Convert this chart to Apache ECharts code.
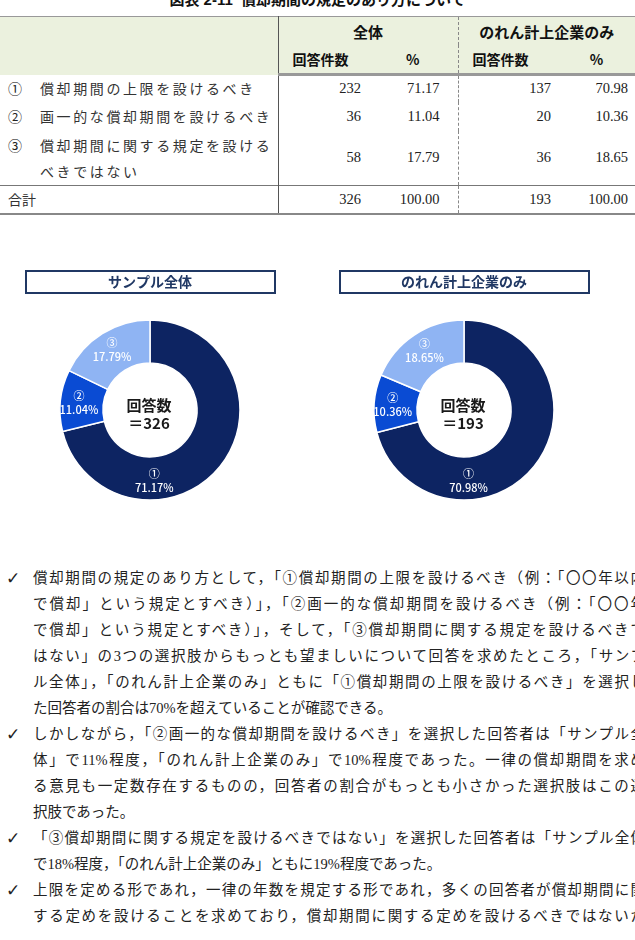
<!DOCTYPE html>
<html lang="ja">
<head>
<meta charset="UTF-8">
<script src="https://cdn.jsdelivr.net/npm/echarts@6/dist/echarts.min.js"></script>
<title>償却期間の規定のあり方について</title>
<style>
    body { margin: 0; width: 635px; height: 940px; overflow: hidden; position: relative; background: #fff;
           font-family: "Liberation Serif", "Noto Sans CJK JP", serif; color: #222; }
    .cap { position: absolute; left: 0; width: 635px; top: -9px; line-height: 18px; text-align: center;
           font-family: "Liberation Sans", "Noto Sans CJK JP", sans-serif; font-weight: bold; font-size: 15px; color: #111; }
    #tbl { position: absolute; left: 0; top: 16px; width: 635px; border-collapse: collapse; table-layout: fixed; }
    #tbl td { padding: 0; vertical-align: middle; white-space: nowrap; }
    #tbl tr.h1 td, #tbl tr.h2 td { background: #ebf1de; font-family: "Noto Sans CJK JP", sans-serif; font-weight: bold; color: #111; }
    #tbl tr.h1 td { height: 28px; font-size: 15px; border-top: 1px solid #999; }
    #tbl tr.h2 td { height: 28px; font-size: 14px; border-bottom: 3px solid #999; }
    #tbl td.c0 { border-right: 1px solid #555; padding-left: 8px; }
    #tbl td.dl { border-left: 1px dashed #888; }
    #tbl td.ctr { text-align: center; }
    #tbl td.pl { padding-left: 14px; }
    #tbl td.num { text-align: right; font-size: 14.5px; padding-right: 7px; }
    #tbl td.num2 { padding-right: 18px; }
    #tbl .mk { display: inline-block; width: 32px; vertical-align: top; font-family: "Noto Sans CJK JP"; font-size: 14px; }
    #tbl .tx { display: inline-block; vertical-align: top; white-space: pre; font-family: "Noto Sans CJK JP"; font-size: 14px;
               letter-spacing: 2.6px; line-height: 26px; color: #333; }
    #tbl tr.tot td { border-top: 1px solid #777; border-bottom: 2px solid #888; height: 27px; }
    #pies { position: absolute; left: 0; top: 230px; width: 635px; height: 300px; }
    .ln { position: absolute; left: 33px; height: 26px; line-height: 26px; white-space: nowrap; font-size: 14.5px; color: #222; }
    .ln.j { width: 612px; text-align: justify; text-align-last: justify; }
    .ck { position: absolute; left: 6px; height: 26px; line-height: 26px; font-family: "DejaVu Sans"; font-size: 17px; color: #222; }
</style>
</head>
<body>
<div class="cap">図表 2-11&nbsp; 償却期間の規定のあり方について</div>
<table id="tbl">
    <colgroup><col style="width:278px"><col style="width:90px"><col style="width:90px"><col style="width:100px"><col style="width:77px"></colgroup>
    <tbody id="tb"></tbody>
</table>
<div id="pies"></div>

<div class="ck" style="top:565px">✓</div>
<div class="ln j" style="top:565px">償却期間の規定のあり方として，「①償却期間の上限を設けるべき（例：「〇〇年以内</div>
<div class="ln j" style="top:591px">で償却」という規定とすべき）」，「②画一的な償却期間を設けるべき（例：「〇〇年</div>
<div class="ln j" style="top:617px">で償却」という規定とすべき）」，そして，「③償却期間に関する規定を設けるべきで</div>
<div class="ln j" style="top:643px">はない」の3つの選択肢からもっとも望ましいについて回答を求めたところ，「サンプ</div>
<div class="ln j" style="top:669px">ル全体」，「のれん計上企業のみ」ともに「①償却期間の上限を設けるべき」を選択し</div>
<div class="ln" style="top:695px">た回答者の割合は70%を超えていることが確認できる。</div>
<div class="ck" style="top:721px">✓</div>
<div class="ln j" style="top:721px">しかしながら，「②画一的な償却期間を設けるべき」を選択した回答者は「サンプル全</div>
<div class="ln j" style="top:747px">体」で11%程度，「のれん計上企業のみ」で10%程度であった。一律の償却期間を求め</div>
<div class="ln j" style="top:773px">る意見も一定数存在するものの，回答者の割合がもっとも小さかった選択肢はこの選</div>
<div class="ln" style="top:799px">択肢であった。</div>
<div class="ck" style="top:825px">✓</div>
<div class="ln j" style="top:825px">「③償却期間に関する規定を設けるべきではない」を選択した回答者は「サンプル全体</div>
<div class="ln" style="top:851px">で18%程度，「のれん計上企業のみ」ともに19%程度であった。</div>
<div class="ck" style="top:877px">✓</div>
<div class="ln j" style="top:877px">上限を定める形であれ，一律の年数を規定する形であれ，多くの回答者が償却期間に関</div>
<div class="ln j" style="top:903px">する定めを設けることを求めており，償却期間に関する定めを設けるべきではないか</div>

<script type="text/javascript">
    // 選択肢
    var marks = ['①', '②', '③'];
    var choices = ['償却期間の上限を設けるべき', '画一的な償却期間を設けるべき', '償却期間に関する規定を設ける\nべきではない'];
    // 全体
    var allCount = [232, 36, 58];
    var allPct = [71.17, 11.04, 17.79];
    // のれん計上企業のみ
    var gwCount = [137, 20, 36];
    var gwPct = [70.98, 10.36, 18.65];
    // 合計
    var totalCount = [326, 193];
    var totalPct = [100.00, 100.00];
    var groupTitles = ['サンプル全体', 'のれん計上企業のみ'];

    var sliceColors = ['#0d2462', '#0a4bd3', '#8fb4f3'];
    var navy = '#203864';

    // 表
    var rowH = [27, 29, 54];
    var html = '<tr class="h1"><td class="c0" rowspan="2"></td><td colspan="2" class="ctr">全体</td>' +
        '<td colspan="2" class="ctr dl">のれん計上企業のみ</td></tr>' +
        '<tr class="h2"><td class="pl">回答件数</td><td class="ctr">%</td><td class="pl dl">回答件数</td><td class="ctr">%</td></tr>';
    for (var i = 0; i < choices.length; i++) {
        html += '<tr><td class="c0" style="height:' + rowH[i] + 'px"><span class="mk" style="line-height:26px">' + marks[i] + '</span>' +
            '<span class="tx">' + choices[i] + '</span></td>' +
            '<td class="num">' + allCount[i] + '</td>' +
            '<td class="num num2">' + allPct[i].toFixed(2) + '</td>' +
            '<td class="num dl">' + gwCount[i] + '</td>' +
            '<td class="num">' + gwPct[i].toFixed(2) + '</td></tr>';
    }
    html += '<tr class="tot"><td class="c0" style="font-family:\'Noto Sans CJK JP\';font-size:14px;color:#333">合計</td>' +
        '<td class="num">' + totalCount[0] + '</td><td class="num num2">' + totalPct[0].toFixed(2) + '</td>' +
        '<td class="num dl">' + totalCount[1] + '</td><td class="num">' + totalPct[1].toFixed(2) + '</td></tr>';
    document.getElementById('tb').innerHTML = html;

    // 円グラフ
    var myChart = echarts.init(document.getElementById('pies'));
    var centers = [[150, 180], [464, 180]];

    function donut(center, counts, pcts) {
        return {
            type: 'pie',
            center: center,
            radius: [47, 90],
            startAngle: 90,
            clockwise: true,
            silent: true,
            animation: false,
            itemStyle: { borderColor: '#fff', borderWidth: 1.5 },
            label: {
                position: 'inside',
                formatter: function (p) {
                    return marks[p.dataIndex] + '\n' + pcts[p.dataIndex].toFixed(2) + '%';
                },
                color: '#fff',
                fontFamily: '"Noto Sans CJK JP", sans-serif',
                fontWeight: 500,
                fontSize: 11,
                lineHeight: 14
            },
            labelLine: { show: false },
            // ①のラベルは下側に寄せる
            labelLayout: function (p) {
                if (p.dataIndex === 0) {
                    return { dx: -52, dy: 27 };
                }
            },
            data: counts.map(function (v, k) {
                return { value: v, name: choices[k], itemStyle: { color: sliceColors[k] } };
            })
        };
    }

    var graphics = [];
    for (var g = 0; g < 2; g++) {
        var cx = centers[g][0];
        graphics.push({
            type: 'rect', silent: true,
            shape: { x: cx - 124, y: 41, width: 249, height: 22 },
            style: { fill: '#fff', stroke: navy, lineWidth: 2 }
        });
        graphics.push({
            type: 'text', silent: true, x: cx, y: 52,
            style: {
                text: groupTitles[g], fill: navy, textAlign: 'center', textVerticalAlign: 'middle',
                align: 'center', verticalAlign: 'middle',
                font: 'bold 14px "Noto Sans CJK JP", sans-serif'
            }
        });
        graphics.push({
            type: 'text', silent: true, x: cx - 1, y: centers[g][1] + 4,
            style: {
                text: '回答数\n＝' + totalCount[g], fill: '#1a1a1a', textAlign: 'center', textVerticalAlign: 'middle',
                align: 'center', verticalAlign: 'middle', lineHeight: 18,
                font: 'bold 15px "Noto Sans CJK JP", sans-serif'
            }
        });
    }

    myChart.setOption({
        animation: false,
        graphic: graphics,
        series: [
            donut(centers[0], allCount, allPct),
            donut(centers[1], gwCount, gwPct)
        ]
    });
</script>
</body>
</html>
